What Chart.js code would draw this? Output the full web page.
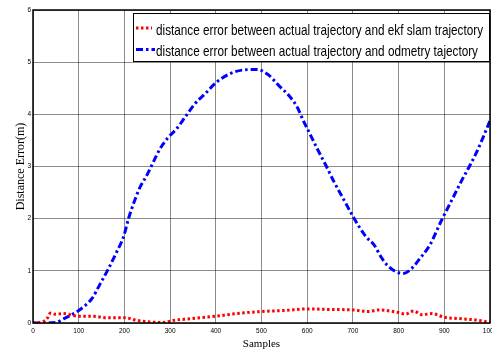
<!DOCTYPE html>
<html>
<head>
<meta charset="utf-8">
<script src="https://cdn.jsdelivr.net/npm/chart.js@4"></script>
<style>
html,body{margin:0;padding:0;background:#fff;}
canvas{display:block;}
</style>
</head>
<body>
<canvas id="c" width="492" height="351"></canvas>
<script>
// Data
const xTickValues = [0,100,200,300,400,500,600,700,800,900,1000];
const yTickValues = [0,1,2,3,4,5,6];

const legendLabels = [
  "distance error between actual trajectory and ekf slam trajectory",
  "distance error between actual trajectory and odmetry tajectory"
];

const ekfX = [0,23,32,38,49,67,100,129,162,202,227,256,285,307,343,400,445,500,551,600,646,700,734,756,800,815,833,851,873,900,939,976,1000];
const ekfY = [0,0.03,0.1,0.19,0.17,0.18,0.13,0.13,0.10,0.10,0.05,0.02,0.01,0.05,0.08,0.13,0.18,0.22,0.24,0.27,0.26,0.25,0.22,0.25,0.20,0.17,0.23,0.16,0.18,0.11,0.08,0.05,0.01];

const odoX = [0,30,50,67,100,129,147,165,183,198,209,220,234,249,263,278,296,314,333,354,376,402,431,460,489,500,516,538,560,578,593,604,622,641,659,681,699,714,729,747,762,776,795,810,828,846,868,894,916,938,956,971,985,1000];
const odoY = [0,0,0.01,0.08,0.24,0.47,0.75,1.04,1.36,1.65,2.0,2.29,2.6,2.83,3.08,3.34,3.56,3.72,3.95,4.2,4.39,4.62,4.78,4.85,4.86,4.84,4.75,4.55,4.36,4.14,3.85,3.66,3.34,3.02,2.70,2.35,2.06,1.84,1.65,1.49,1.26,1.10,0.98,0.95,1.04,1.23,1.49,1.97,2.35,2.73,3.02,3.28,3.56,3.88];

const toPoints = (xs, ys) => xs.map((x, i) => ({x: x, y: ys[i]}));

const boxAndLegend = {
  id: 'boxAndLegend',
  afterDraw(chart) {
    const ctx = chart.ctx;
    const a = chart.chartArea;
    ctx.save();
    // axes box
    ctx.strokeStyle = '#000';
    ctx.lineWidth = 1.5;
    ctx.setLineDash([]);
    ctx.strokeRect(a.left, a.top, a.right - a.left, a.bottom - a.top);
    // legend box
    const lx = 133, ly = 13, lw = 356, lh = 48;
    ctx.fillStyle = '#fff';
    ctx.fillRect(lx, ly, lw, lh);
    ctx.lineWidth = 1;
    ctx.strokeRect(lx + 0.5, ly + 0.5, lw, lh);
    const rows = [
      {y: 28, ds: chart.data.datasets[0], x2: 152, base: 34.5, w: 327},
      {y: 49.5, ds: chart.data.datasets[1], x2: 155, base: 55.5, w: 322}
    ];
    rows.forEach(r => {
      ctx.strokeStyle = r.ds.borderColor;
      ctx.lineWidth = r.ds.borderWidth;
      ctx.setLineDash(r.ds.borderDash);
      ctx.beginPath();
      ctx.moveTo(136, r.y);
      ctx.lineTo(r.x2, r.y);
      ctx.stroke();
      ctx.setLineDash([]);
      ctx.fillStyle = '#000';
      ctx.font = '15px "Liberation Sans", Arial, sans-serif';
      ctx.textBaseline = 'alphabetic';
      const m = ctx.measureText(r.ds.label).width;
      ctx.save();
      ctx.translate(156, r.base);
      ctx.scale(r.w / m, 1);
      ctx.fillText(r.ds.label, 0, 0);
      ctx.restore();
    });
    ctx.restore();
  }
};

new Chart(document.getElementById('c'), {
  type: 'line',
  data: {
    datasets: [
      {
        label: legendLabels[0],
        data: toPoints(ekfX, ekfY),
        borderColor: '#ff0000',
        borderWidth: 3,
        borderDash: [2.5, 2.5],
        pointRadius: 0,
        cubicInterpolationMode: 'monotone',
        fill: false
      },
      {
        label: legendLabels[1],
        data: toPoints(odoX, odoY),
        borderColor: '#0000ff',
        borderWidth: 3,
        borderDash: [7, 3, 2.5, 3],
        pointRadius: 0,
        cubicInterpolationMode: 'monotone',
        fill: false
      }
    ]
  },
  options: {
    responsive: false,
    animation: false,
    layout: {padding: {top: 10, right: 2, left: 0, bottom: 0}},
    plugins: {legend: {display: false}, tooltip: {enabled: false}},
    scales: {
      x: {
        type: 'linear',
        min: 0, max: 1000,
        afterBuildTicks: s => { s.ticks = xTickValues.map(v => ({value: v})); },
        afterFit: s => { s.height = 28; s.paddingLeft = 0; s.paddingRight = 0; },
        ticks: {
          autoSkip: false, maxRotation: 0,
          callback: v => String(v),
          font: {family: '"Liberation Sans", Arial, sans-serif', size: 6.5},
          color: '#000', padding: 4
        },
        grid: {color: 'rgba(0,0,0,0.45)', lineWidth: 1, drawTicks: false},
        border: {display: false},
        title: {
          display: true, text: 'Samples', color: '#000',
          font: {family: '"Liberation Serif", "Times New Roman", serif', size: 11},
          padding: {top: 0, bottom: 0}
        }
      },
      y: {
        min: 0, max: 6,
        afterBuildTicks: s => { s.ticks = yTickValues.map(v => ({value: v})); },
        afterFit: s => { s.width = 33; s.paddingTop = 0; s.paddingBottom = 0; },
        ticks: {
          callback: v => String(v),
          font: {family: '"Liberation Sans", Arial, sans-serif', size: 6.5},
          color: '#000', padding: 2
        },
        grid: {color: 'rgba(0,0,0,0.45)', lineWidth: 1, drawTicks: false},
        border: {display: false},
        title: {
          display: true, text: 'Distance Error(m)', color: '#000',
          font: {family: '"Liberation Serif", "Times New Roman", serif', size: 12},
          padding: {top: 14, bottom: 0}
        }
      }
    }
  },
  plugins: [boxAndLegend]
});
</script>
</body>
</html>
